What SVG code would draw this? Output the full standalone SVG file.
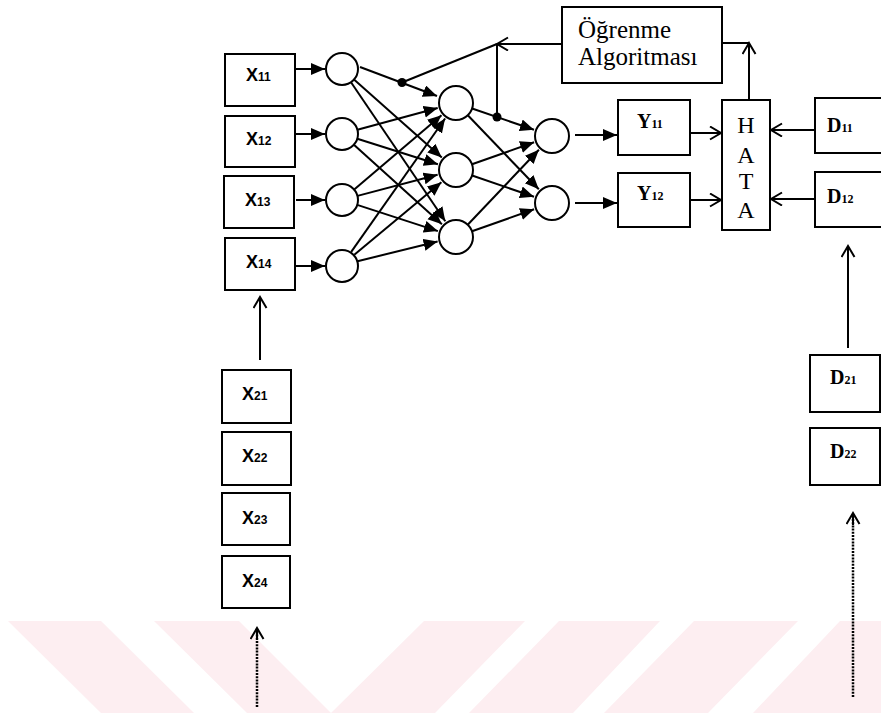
<svg xmlns="http://www.w3.org/2000/svg" width="881" height="713" viewBox="0 0 881 713">
  <style>
    .box { fill: #ffffff; stroke: #000; stroke-width: 2; }
    .neuron { fill: #ffffff; stroke: #000; stroke-width: 2; }
    .wire { fill: none; stroke: #000; stroke-width: 2; }
    .dotted { fill: none; stroke: #000; stroke-width: 2.5; stroke-dasharray: 2 1.2; }
    .lblx { font-family: "Liberation Sans", Arial, sans-serif; font-size: 18px; font-weight: bold; fill: #000; }
    .lbl { font-family: "Liberation Serif", "Times New Roman", serif; font-size: 20px; font-weight: bold; fill: #000; }
    .sub { font-size: 12px; }
    .big { font-family: "Liberation Serif", "Times New Roman", serif; font-size: 25px; fill: #000; }
    .hata { font-family: "Liberation Serif", "Times New Roman", serif; font-size: 24px; fill: #000; text-anchor: middle; }
    .wm { fill: #fdeef1; }
  </style>
  <defs>
    <marker id="solid" markerUnits="userSpaceOnUse" markerWidth="15" markerHeight="13" refX="14" refY="6" orient="auto">
      <path d="M0,0 L14,6 L0,12 z" fill="#000"/>
    </marker>
    <marker id="open" markerUnits="userSpaceOnUse" markerWidth="14" markerHeight="16" refX="12" refY="7" orient="auto">
      <path d="M1,0.5 L12,7 L1,13.5" fill="none" stroke="#000" stroke-width="2"/>
    </marker>
  </defs>

  <rect width="881" height="713" fill="#ffffff"/>

  <!-- background stripes -->
  <g id="background">
    <polygon class="wm" points="8,621 101,621 194,713 101,713"/>
    <polygon class="wm" points="154,621 239,621 331,713 247,713"/>
    <polygon class="wm" points="424,621 525,621 435,713 331,713"/>
    <polygon class="wm" points="559,621 660,621 573,713 469,713"/>
    <polygon class="wm" points="694,621 798,621 708,713 604,713"/>
    <polygon class="wm" points="840,621 881,621 881,713 753,713"/>
  </g>

  <g id="connectors">
    <!-- inputs to first layer -->
    <line class="wire" x1="296" y1="69" x2="325" y2="69" marker-end="url(#solid)"/>
    <line class="wire" x1="296" y1="134" x2="325" y2="134" marker-end="url(#solid)"/>
    <line class="wire" x1="296" y1="200" x2="325" y2="200" marker-end="url(#solid)"/>
    <line class="wire" x1="296" y1="266" x2="325" y2="266" marker-end="url(#solid)"/>

    <!-- first layer to hidden layer -->
    <line class="wire" x1="360" y1="67" x2="437" y2="96" marker-end="url(#solid)"/>
    <line class="wire" x1="354" y1="79.6" x2="441.8" y2="157.4" marker-end="url(#solid)"/>
    <line class="wire" x1="351" y1="82.2" x2="445.3" y2="221.3" marker-end="url(#solid)"/>
    <line class="wire" x1="357.4" y1="129.8" x2="437.7" y2="108" marker-end="url(#solid)"/>
    <line class="wire" x1="357.3" y1="138.8" x2="437.9" y2="164.3" marker-end="url(#solid)"/>
    <line class="wire" x1="353.9" y1="144.7" x2="441.9" y2="224.3" marker-end="url(#solid)"/>
    <line class="wire" x1="354.2" y1="189.6" x2="441.5" y2="115.3" marker-end="url(#solid)"/>
    <line class="wire" x1="357.5" y1="195.9" x2="437.6" y2="174.8" marker-end="url(#solid)"/>
    <line class="wire" x1="357.2" y1="204.9" x2="437.9" y2="231.1" marker-end="url(#solid)"/>
    <line class="wire" x1="351.2" y1="251.9" x2="445.1" y2="118.5" marker-end="url(#solid)"/>
    <line class="wire" x1="354.3" y1="254.8" x2="441.4" y2="182.2" marker-end="url(#solid)"/>
    <line class="wire" x1="357.5" y1="261.2" x2="437.6" y2="241.5" marker-end="url(#solid)"/>

    <!-- hidden layer to output layer -->
    <line class="wire" x1="472.1" y1="108.5" x2="534" y2="129.8" marker-end="url(#solid)"/>
    <line class="wire" x1="467.8" y1="115.3" x2="538.8" y2="189.3" marker-end="url(#solid)"/>
    <line class="wire" x1="472" y1="164.3" x2="534.1" y2="142.3" marker-end="url(#solid)"/>
    <line class="wire" x1="472.1" y1="175.5" x2="534" y2="196.8" marker-end="url(#solid)"/>
    <line class="wire" x1="467.7" y1="224.7" x2="538.9" y2="149.8" marker-end="url(#solid)"/>
    <line class="wire" x1="472" y1="231.3" x2="534.1" y2="209.3" marker-end="url(#solid)"/>

    <!-- outputs to Y boxes -->
    <line class="wire" x1="575" y1="135" x2="617" y2="135" marker-end="url(#solid)"/>
    <line class="wire" x1="575" y1="203" x2="617" y2="203" marker-end="url(#solid)"/>

    <!-- Y and D boxes into the error block -->
    <line class="wire" x1="690" y1="133" x2="721" y2="133" marker-end="url(#open)"/>
    <line class="wire" x1="690" y1="200" x2="721" y2="200" marker-end="url(#open)"/>
    <line class="wire" x1="815" y1="130" x2="771" y2="130" marker-end="url(#open)"/>
    <line class="wire" x1="815" y1="199" x2="771" y2="199" marker-end="url(#open)"/>

    <!-- error to learning algorithm -->
    <line class="wire" x1="749" y1="100" x2="749" y2="43" marker-end="url(#open)"/>
    <line class="wire" x1="749" y1="43" x2="722" y2="43"/>

    <!-- learning algorithm feedback to weights -->
    <line class="wire" x1="562" y1="44" x2="497" y2="44" marker-end="url(#open)"/>
    <line class="wire" x1="497" y1="44" x2="402" y2="82.5"/>
    <line class="wire" x1="497" y1="44" x2="497" y2="117"/>
    <circle cx="402" cy="82.5" r="4.5" fill="#000"/>
    <circle cx="497" cy="117" r="4.5" fill="#000"/>

    <!-- data feeding arrows -->
    <line class="wire" x1="260" y1="360" x2="260" y2="297" marker-end="url(#open)"/>
    <line class="wire" x1="848" y1="348" x2="848" y2="246" marker-end="url(#open)"/>
    <line class="dotted" x1="257" y1="707" x2="257" y2="629"/>
    <line class="wire" x1="257" y1="640" x2="257" y2="628" marker-end="url(#open)"/>
    <line class="dotted" x1="853" y1="697" x2="853" y2="514"/>
    <line class="wire" x1="853" y1="525" x2="853" y2="513" marker-end="url(#open)"/>
  </g>

  <!-- input boxes, current sample -->
  <g id="x11"><rect class="box" x="225" y="54" width="70" height="52"/><text class="lblx" x="246" y="81">X<tspan class="sub">11</tspan></text></g>
  <g id="x12"><rect class="box" x="225" y="116" width="70" height="51"/><text class="lblx" x="246" y="145">X<tspan class="sub">12</tspan></text></g>
  <g id="x13"><rect class="box" x="224" y="176" width="70" height="52"/><text class="lblx" x="245" y="206">X<tspan class="sub">13</tspan></text></g>
  <g id="x14"><rect class="box" x="225" y="238" width="70" height="52"/><text class="lblx" x="246" y="268">X<tspan class="sub">14</tspan></text></g>

  <!-- input boxes, next sample -->
  <g id="x21"><rect class="box" x="222" y="370" width="69" height="53"/><text class="lblx" x="242" y="400">X<tspan class="sub">21</tspan></text></g>
  <g id="x22"><rect class="box" x="222" y="432" width="69" height="53"/><text class="lblx" x="242" y="462">X<tspan class="sub">22</tspan></text></g>
  <g id="x23"><rect class="box" x="222" y="493" width="68" height="52"/><text class="lblx" x="242" y="524">X<tspan class="sub">23</tspan></text></g>
  <g id="x24"><rect class="box" x="222" y="556" width="68" height="52"/><text class="lblx" x="242" y="587">X<tspan class="sub">24</tspan></text></g>

  <!-- input layer neurons -->
  <g id="in1"><circle class="neuron" cx="342" cy="69" r="16"/></g>
  <g id="in2"><circle class="neuron" cx="342" cy="134" r="16"/></g>
  <g id="in3"><circle class="neuron" cx="342" cy="200" r="16"/></g>
  <g id="in4"><circle class="neuron" cx="342" cy="266" r="16"/></g>

  <!-- hidden layer neurons -->
  <g id="h1"><circle class="neuron" cx="456" cy="103" r="17"/></g>
  <g id="h2"><circle class="neuron" cx="456" cy="170" r="17"/></g>
  <g id="h3"><circle class="neuron" cx="456" cy="237" r="17"/></g>

  <!-- output layer neurons -->
  <g id="o1"><circle class="neuron" cx="552" cy="136" r="17"/></g>
  <g id="o2"><circle class="neuron" cx="552" cy="203" r="17"/></g>

  <!-- outputs -->
  <g id="y11"><rect class="box" x="618" y="100" width="72" height="55"/><text class="lbl" x="637" y="128">Y<tspan class="sub">11</tspan></text></g>
  <g id="y12"><rect class="box" x="618" y="173" width="72" height="54"/><text class="lbl" x="637" y="200">Y<tspan class="sub">12</tspan></text></g>

  <!-- learning algorithm -->
  <g id="ogrenme">
    <rect class="box" x="562" y="7" width="160" height="76"/>
    <text class="big" x="578" y="38">Öğrenme</text>
    <text class="big" x="578" y="65">Algoritması</text>
  </g>

  <!-- error block -->
  <g id="hata">
    <rect class="box" x="722" y="100" width="48" height="130"/>
    <text class="hata" x="746" y="133">H</text>
    <text class="hata" x="746" y="163">A</text>
    <text class="hata" x="746" y="189">T</text>
    <text class="hata" x="746" y="218">A</text>
  </g>

  <!-- desired outputs -->
  <g id="d11"><rect class="box" x="815" y="98" width="80" height="55"/><text class="lbl" x="827" y="132">D<tspan class="sub">11</tspan></text></g>
  <g id="d12"><rect class="box" x="815" y="172" width="80" height="55"/><text class="lbl" x="827" y="203">D<tspan class="sub">12</tspan></text></g>
  <g id="d21"><rect class="box" x="810" y="355" width="70" height="57"/><text class="lbl" x="830" y="384">D<tspan class="sub">21</tspan></text></g>
  <g id="d22"><rect class="box" x="810" y="428" width="70" height="57"/><text class="lbl" x="830" y="458">D<tspan class="sub">22</tspan></text></g>
</svg>
